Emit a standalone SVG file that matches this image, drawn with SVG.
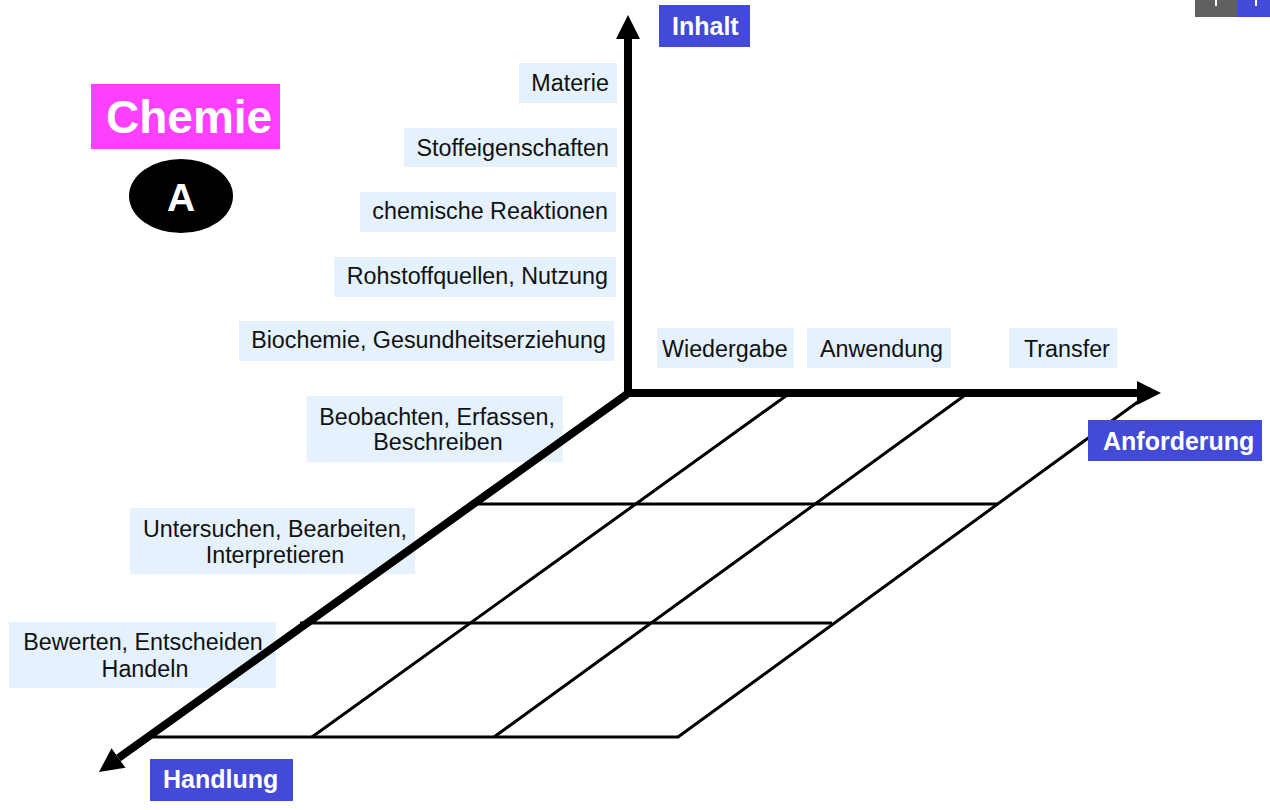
<svg xmlns="http://www.w3.org/2000/svg" width="1270" height="810" viewBox="0 0 1270 810">
  <style>
    .lbl-box { fill: #e5f1fd; }
    .lbl { font-family: "Liberation Sans", Arial, sans-serif; font-size: 23.3px; fill: #111; }
    .title-box { fill: #434ad6; }
    .title { font-family: "Liberation Sans", Arial, sans-serif; font-size: 25px; font-weight: bold; fill: #fff; }
    .grid { stroke: #000; stroke-width: 3; fill: none; }
    .axis { stroke: #000; stroke-width: 8; fill: none; marker-end: url(#head); }
  </style>
  <defs>
    <marker id="head" markerUnits="userSpaceOnUse" markerWidth="24" markerHeight="24" refX="0" refY="12" orient="auto" overflow="visible">
      <path d="M0,0 L24,12 L0,24 Z" fill="#000"/>
    </marker>
  </defs>

  <rect width="1270" height="810" fill="#fff"/>

  <!-- corner tabs -->
  <g id="corner-tabs">
    <rect x="1195" y="0" width="42" height="17" fill="#606060"/>
    <rect x="1237" y="0" width="33" height="17" fill="#434ad6"/>
    <rect x="1215" y="0" width="2" height="6" fill="#fff"/>
    <rect x="1255" y="0" width="2" height="6" fill="#fff"/>
  </g>

  <!-- subject badge -->
  <g id="chemie">
    <rect x="91" y="84" width="189" height="65" fill="#ff40ff"/>
    <text x="106" y="133" font-family="Liberation Sans, Arial, sans-serif" font-size="46" font-weight="bold" fill="#fff">Chemie</text>
  </g>
  <g id="badge-a">
    <ellipse cx="181" cy="196" rx="52" ry="37" fill="#000"/>
    <text x="181" y="211" text-anchor="middle" font-family="Liberation Sans, Arial, sans-serif" font-size="39" font-weight="bold" fill="#fff">A</text>
  </g>

  <!-- content labels (vertical axis) -->
  <g id="materie">
    <rect class="lbl-box" x="519" y="63" width="98" height="40"/>
    <text class="lbl" x="609" y="91" text-anchor="end">Materie</text>
  </g>
  <g id="stoffeigenschaften">
    <rect class="lbl-box" x="404" y="128" width="213" height="39"/>
    <text class="lbl" x="609" y="156" text-anchor="end">Stoffeigenschaften</text>
  </g>
  <g id="reaktionen">
    <rect class="lbl-box" x="360" y="192" width="256" height="40"/>
    <text class="lbl" x="608" y="219" text-anchor="end">chemische Reaktionen</text>
  </g>
  <g id="rohstoffquellen">
    <rect class="lbl-box" x="334" y="257" width="282" height="40"/>
    <text class="lbl" x="608" y="284" text-anchor="end">Rohstoffquellen, Nutzung</text>
  </g>
  <g id="biochemie">
    <rect class="lbl-box" x="239" y="321" width="375" height="40"/>
    <text class="lbl" x="606" y="348" text-anchor="end">Biochemie, Gesundheitserziehung</text>
  </g>

  <!-- requirement labels (horizontal axis) -->
  <g id="wiedergabe">
    <rect class="lbl-box" x="657" y="328" width="137" height="40"/>
    <text class="lbl" x="662" y="357">Wiedergabe</text>
  </g>
  <g id="anwendung">
    <rect class="lbl-box" x="807" y="328" width="144" height="40"/>
    <text class="lbl" x="820" y="357">Anwendung</text>
  </g>
  <g id="transfer">
    <rect class="lbl-box" x="1009" y="328" width="108" height="40"/>
    <text class="lbl" x="1024" y="357">Transfer</text>
  </g>

  <!-- action labels (depth axis) -->
  <g id="beobachten">
    <rect class="lbl-box" x="307" y="396" width="256" height="66"/>
    <text class="lbl" x="437" y="425" text-anchor="middle">Beobachten, Erfassen,</text>
    <text class="lbl" x="438" y="450" text-anchor="middle">Beschreiben</text>
  </g>
  <g id="untersuchen">
    <rect class="lbl-box" x="130" y="508" width="285" height="66"/>
    <text class="lbl" x="275" y="537" text-anchor="middle">Untersuchen, Bearbeiten,</text>
    <text class="lbl" x="275" y="563" text-anchor="middle">Interpretieren</text>
  </g>
  <g id="bewerten">
    <rect class="lbl-box" x="9" y="622" width="267" height="66"/>
    <text class="lbl" x="143" y="650" text-anchor="middle">Bewerten, Entscheiden</text>
    <text class="lbl" x="145" y="677" text-anchor="middle">Handeln</text>
  </g>

  <!-- grid and axes -->
  <g id="connectors">
    <line class="grid" x1="790" y1="393" x2="312" y2="737"/>
    <line class="grid" x1="968" y1="393" x2="494" y2="737"/>
    <line class="grid" x1="1150" y1="393" x2="678" y2="737"/>
    <line class="grid" x1="474" y1="504" x2="998" y2="504"/>
    <line class="grid" x1="300" y1="623" x2="832" y2="623"/>
    <line class="grid" x1="150" y1="737" x2="679" y2="737"/>
    <line class="axis" x1="628" y1="397" x2="628" y2="39"/>
    <line class="axis" x1="624" y1="393" x2="1137" y2="393"/>
    <line class="axis" x1="630" y1="392" x2="118.5" y2="758"/>
  </g>

  <!-- axis titles -->
  <g id="inhalt">
    <rect class="title-box" x="659" y="5" width="91" height="42"/>
    <text class="title" x="672" y="35">Inhalt</text>
  </g>
  <g id="anforderung">
    <rect class="title-box" x="1088" y="420" width="174" height="41"/>
    <text class="title" x="1103" y="450">Anforderung</text>
  </g>
  <g id="handlung">
    <rect class="title-box" x="150" y="759" width="143" height="42"/>
    <text class="title" x="163" y="788">Handlung</text>
  </g>
</svg>
